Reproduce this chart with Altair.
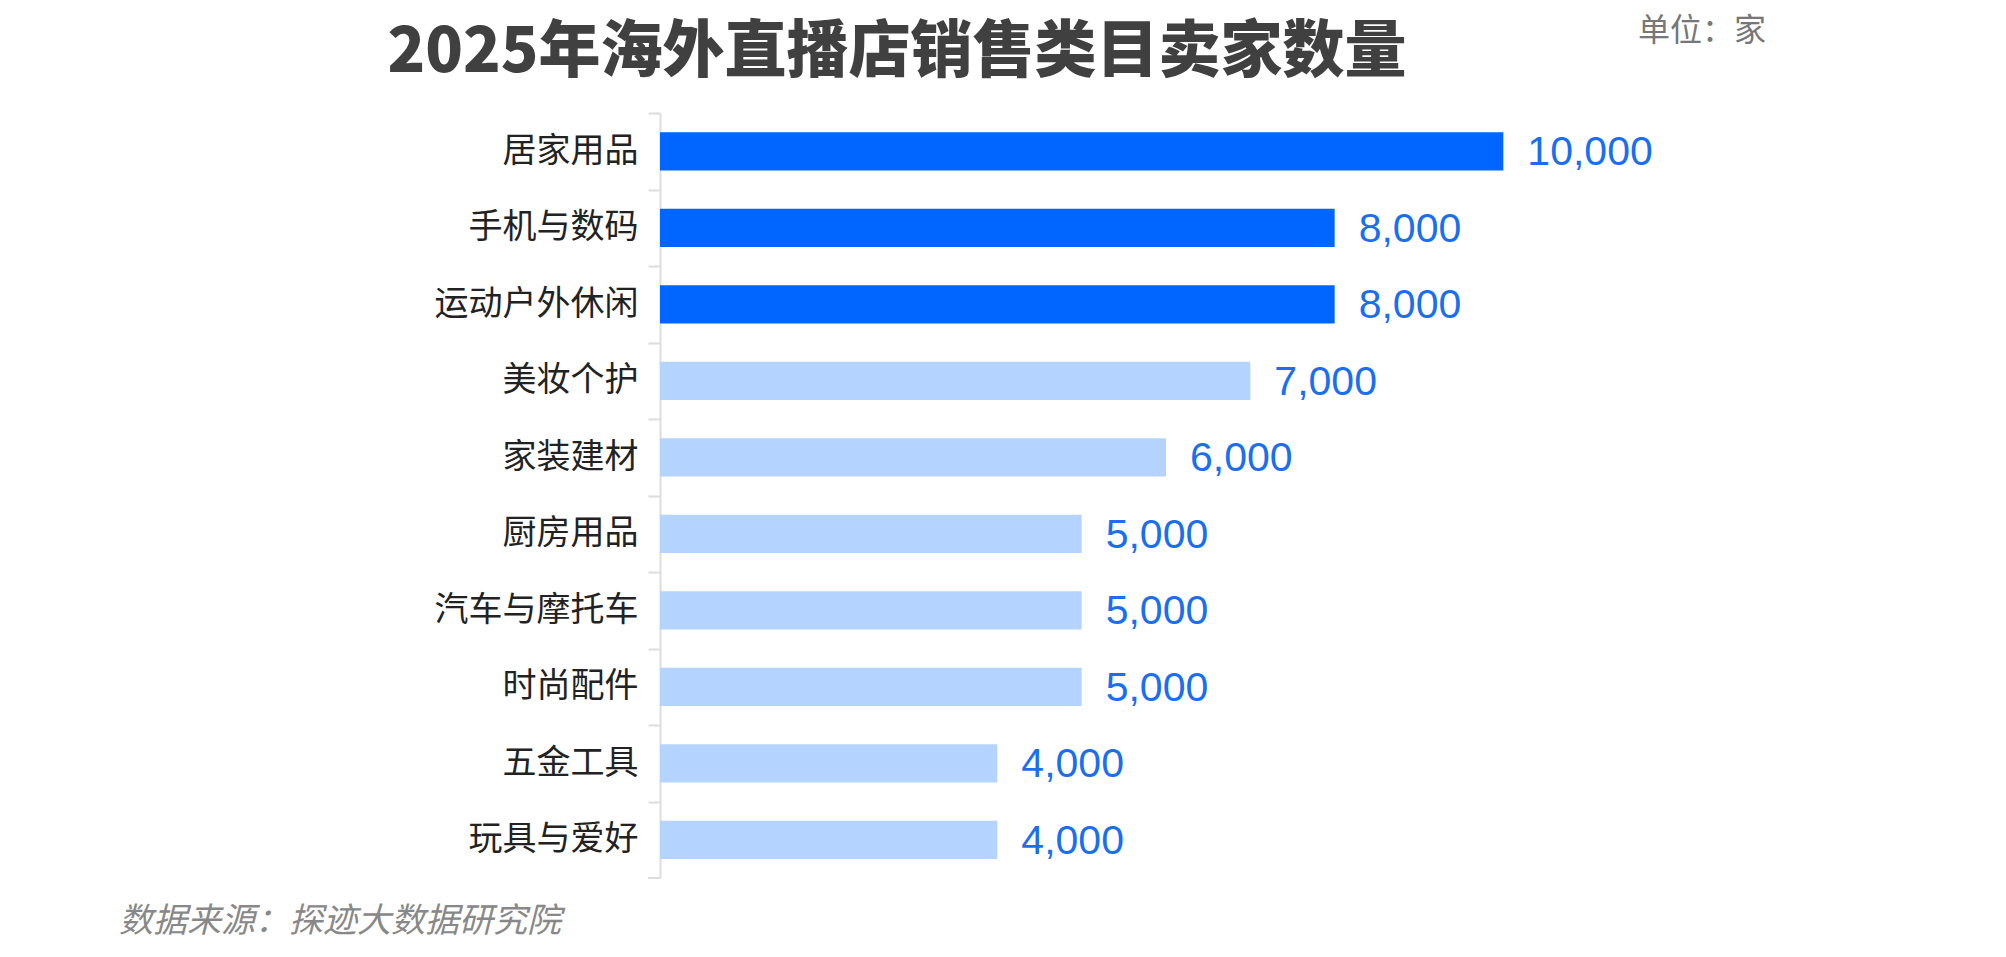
import altair as alt
import pandas as pd

categories = ["居家用品", "手机与数码", "运动户外休闲", "美妆个护", "家装建材",
              "厨房用品", "汽车与摩托车", "时尚配件", "五金工具", "玩具与爱好"]
values = [10000, 8000, 8000, 7000, 6000, 5000, 5000, 5000, 4000, 4000]
highlight = ["top", "top", "top", "rest", "rest", "rest", "rest", "rest", "rest", "rest"]

df = pd.DataFrame({"cat": categories, "val": values, "grp": highlight})
df["lbl"] = [f"{v:,}" for v in values]

W, H = 1012, 765
STEP = H / len(categories)
FONT = "Noto Sans CJK SC"

y_enc = alt.Y("cat:N", sort=categories, title=None,
              scale=alt.Scale(paddingInner=0.5, paddingOuter=0.25),
              axis=alt.Axis(labelFont=FONT, labelFontSize=34, labelColor="#222222",
                            labelPadding=10, tickSize=12, tickColor="#dddddd",
                            domainColor="#dddddd", domainWidth=2, tickWidth=2,
                            tickOffset=-STEP / 2, labelOffset=STEP / 2, labelLimit=400))
x_enc = alt.X("val:Q", scale=alt.Scale(domain=[0, 12000]), axis=None)

bars = alt.Chart(df).mark_bar().encode(
    y=y_enc, x=x_enc,
    color=alt.Color("grp:N", scale=alt.Scale(domain=["top", "rest"],
                                             range=["#0066FF", "#B5D3FF"]), legend=None),
)

labels = alt.Chart(df).mark_text(align="left", baseline="middle", dx=24, dy=2,
                                 font="Liberation Sans", fontSize=41, color="#1A6FEF").encode(
    y=alt.Y("cat:N", sort=categories), x=x_enc, text="lbl:N")

bottom_tick = alt.Chart(pd.DataFrame({"a": [0]})).mark_rule(
    color="#dddddd", strokeWidth=2).encode(
    x=alt.value(-12), x2=alt.value(0), y=alt.value(H))

title = alt.Chart(pd.DataFrame({"t": ["2025年海外直播店销售类目卖家数量"]})).mark_text(
    align="center", baseline="middle", font=FONT, fontSize=62, fontWeight=900,
    color="#404040").encode(x=alt.value(237), y=alt.value(-60), text="t:N")

unit = alt.Chart(pd.DataFrame({"t": ["单位：家"]})).mark_text(
    align="left", baseline="middle", font=FONT, fontSize=32, color="#777777").encode(
    x=alt.value(978), y=alt.value(-82), text="t:N")

source = alt.Chart(pd.DataFrame({"t": ["数据来源：探迹大数据研究院"]})).mark_text(
    align="left", baseline="middle", font=FONT, fontSize=34, fontStyle="italic",
    color="#888888").encode(x=alt.value(-541), y=alt.value(809), text="t:N")

chart = alt.layer(bars, labels, bottom_tick, title, unit, source).properties(
    width=W, height=H,
    autosize=alt.AutoSizeParams(type="none"),
    padding={"left": 660, "top": 113, "right": 334, "bottom": 79},
).configure(background="white").configure_view(stroke="transparent", strokeWidth=0)

chart.save("out.html", embed_options={"renderer": "svg", "actions": False})
